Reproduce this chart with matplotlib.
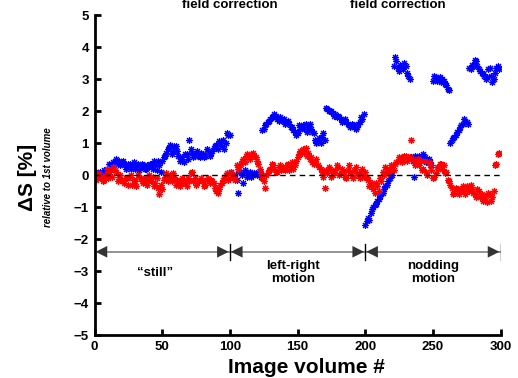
import numpy as np
import matplotlib
matplotlib.use("Agg")
import matplotlib.pyplot as plt

plt.rcParams['font.family'] = ['Liberation Sans', 'DejaVu Sans']

# image volume index
vol_even = np.arange(0, 300, 2)
vol_odd = np.arange(1, 300, 2)

# signal change, blue series (even / odd volumes)
blue_even = [0.0, 0.05, 0.1, 0.0, 0.1, 0.05, 0.3, 0.4, 0.5, 0.45,
             0.4, 0.3, 0.25, 0.35, 0.3, 0.2, 0.35, 0.25, 0.3, 0.2,
             0.25, 0.3, 0.45, 0.15, 0.3, 0.45, 0.6, 0.8, 0.95, 0.75,
             0.9, 0.6, 0.5, 0.4, 0.65, 1.1, 0.7, 0.6, 0.75, 0.55,
             0.65, 0.6, 0.75, 0.7, 0.85, 0.95, 1.05, 0.9, 0.8, 1.3,
             1.25, 0.0, -0.1, -0.55, 0.05, -0.25, 0.1, 0.0, -0.05, 0.05,
             0.0, 0.1, 1.4, 1.55, 1.65, 1.75, 1.8, 1.85, 1.7, 1.75,
             1.75, 1.65, 1.6, 1.5, 1.35, 1.3, 1.45, 1.55, 1.6, 1.5,
             1.45, 1.3, 1.0, 1.15, 1.2, 1.1, 2.05, 2.0, 1.95, 1.9,
             1.85, 1.75, 1.7, 1.65, 1.55, 1.6, 1.5, 1.5, 1.65, 1.75,
             -1.55, -1.35, -1.2, -1.0, -0.9, -0.75, -0.6, -0.45, -0.3, -0.1,
             0.0, 3.7, 3.35, 3.45, 3.3, 3.4, 3.1, 0.55, -0.05, 0.55,
             0.6, 0.5, 0.55, 0.45, 0.4, 2.95, 3.05, 3.0, 2.9, 2.95,
             2.8, 2.65, 1.1, 1.2, 1.35, 1.5, 1.6, 1.7, 1.6, 3.3,
             3.4, 3.55, 3.3, 3.2, 3.1, 3.05, 3.35, 2.9, 3.2, 3.4]
blue_odd = [0.1, -0.05, 0.05, 0.15, 0.0, 0.35, 0.25, 0.45, 0.35, 0.3,
            0.45, 0.2, 0.35, 0.2, 0.4, 0.3, 0.15, 0.35, 0.2, 0.3,
            0.35, 0.2, 0.3, 0.45, 0.1, 0.55, 0.7, 0.85, 0.65, 0.9,
            0.75, 0.45, 0.55, 0.65, 0.5, 0.8, 0.55, 0.7, 0.6, 0.7,
            0.55, 0.8, 0.6, 0.75, 0.9, 0.8, 1.0, 1.1, 1.0, 1.25,
            0.1, 0.0, -0.15, 0.1, 0.0, 0.15, -0.05, 0.1, 0.0, 0.05,
            0.05, -0.05, 1.45, 1.6, 1.7, 1.8, 1.9, 1.75, 1.8, 1.7,
            1.6, 1.7, 1.5, 1.4, 1.25, 1.55, 1.5, 1.45, 1.35, 1.6,
            1.35, 1.1, 1.05, 1.0, 1.3, 2.1, 2.0, 2.0, 1.85, 1.8,
            1.8, 1.65, 1.75, 1.6, 1.5, 1.55, 1.45, 1.6, 1.8, 1.9,
            -1.45, -1.4, -1.05, -0.95, -0.8, -0.65, -0.55, -0.35, -0.2, 0.05,
            3.4, 3.55, 3.25, 3.35, 3.5, 3.2, 3.0, 0.45, 0.6, 0.5,
            0.5, 0.65, 0.4, 0.5, 0.3, 3.1, 2.95, 3.05, 3.0, 2.85,
            2.7, 1.0, 1.15, 1.25, 1.4, 1.55, 1.75, 1.65, 3.35, 3.45,
            3.6, 3.4, 3.25, 3.15, 3.0, 3.3, 3.1, 3.0, 3.35, 3.3]

# signal change, red series (even / odd volumes)
red_even = [0.05, -0.05, -0.1, -0.2, 0.0, -0.1, 0.15, 0.25, 0.1, -0.05,
            -0.15, -0.25, -0.1, -0.05, -0.3, -0.2, 0.0, -0.1, -0.25, -0.15,
            0.0, -0.2, -0.35, -0.1, -0.6, -0.45, -0.05, -0.2, 0.0, 0.05,
            -0.3, -0.2, -0.25, -0.15, -0.35, -0.2, 0.1, -0.1, -0.25, -0.15,
            -0.2, -0.3, -0.1, -0.15, -0.25, -0.5, -0.45, -0.25, -0.1, 0.05,
            -0.1, 0.0, -0.15, 0.2, 0.35, 0.5, 0.6, 0.55, 0.65, 0.6,
            0.45, 0.2, -0.1, -0.4, 0.05, 0.2, 0.3, 0.1, 0.25, 0.15,
            0.2, 0.3, 0.15, 0.4, 0.3, 0.55, 0.75, 0.8, 0.85, 0.7,
            0.55, 0.35, 0.5, 0.25, 0.1, -0.4, 0.05, 0.2, 0.0, 0.15,
            0.25, 0.05, 0.1, -0.1, 0.3, 0.0, 0.15, 0.05, -0.1, 0.2,
            0.1, -0.15, -0.3, -0.45, -0.25, -0.5, -0.2, 0.0, 0.2, 0.15,
            0.25, 0.35, 0.45, 0.5, 0.55, 0.6, 0.5, 1.1, 0.45, 0.35,
            0.3, 0.15, 0.45, 0.0, 0.3, -0.1, 0.05, 0.2, 0.35, 0.3,
            0.1, -0.2, -0.4, -0.55, -0.45, -0.5, -0.35, -0.6, -0.4, -0.3,
            -0.55, -0.7, -0.5, -0.6, -0.75, -0.85, -0.6, -0.7, 0.3, 0.65]
red_odd = [-0.15, 0.05, -0.05, -0.15, 0.2, 0.1, -0.05, 0.15, -0.2, 0.0,
           -0.2, -0.1, -0.3, 0.0, -0.15, -0.35, -0.05, -0.2, -0.1, -0.3,
           -0.15, -0.05, -0.25, -0.4, -0.3, -0.15, 0.05, -0.1, -0.2, -0.05,
           -0.15, -0.35, -0.1, -0.25, -0.1, 0.05, -0.2, -0.3, -0.2, -0.1,
           -0.35, -0.15, -0.25, -0.2, -0.4, -0.55, -0.3, -0.15, 0.0, -0.15,
           0.1, -0.05, 0.3, 0.25, 0.45, 0.4, 0.65, 0.5, 0.7, 0.55,
           0.35, 0.05, -0.2, 0.0, 0.15, 0.35, 0.2, 0.1, 0.3, 0.25,
           0.15, 0.35, 0.25, 0.2, 0.45, 0.65, 0.7, 0.75, 0.6, 0.5,
           0.4, 0.45, 0.3, 0.2, -0.05, 0.15, 0.25, -0.05, 0.1, 0.3,
           0.0, 0.2, -0.05, 0.15, 0.1, -0.1, 0.25, 0.0, 0.1, -0.05,
           -0.05, -0.35, -0.25, -0.55, -0.35, -0.1, 0.1, 0.25, 0.05, 0.3,
           0.15, 0.4, 0.55, 0.4, 0.6, 0.45, 0.55, 0.5, 0.3, 0.5,
           0.45, 0.2, 0.1, 0.4, 0.15, -0.05, 0.25, 0.35, 0.2, 0.05,
           -0.15, -0.3, -0.6, -0.4, -0.6, -0.45, -0.5, -0.35, -0.5, -0.45,
           -0.6, -0.45, -0.7, -0.8, -0.65, -0.55, -0.8, -0.5, 0.35, 0.7]

# experiment segments
seg_edges = [0, 100, 200, 300]
seg_labels = ['\u201cstill\u201d', 'left-right\nmotion', 'nodding\nmotion']
seg_label_x = [45, 147, 250]
corr_labels_x = [230, 398]  # pixel positions of the "field correction" notes

fig = plt.figure(figsize=(5.18, 3.78), dpi=100)
ax = fig.add_axes([94.5 / 518, 43 / 378, 406 / 518, 320 / 378])

ast = (8, 2, 0)
for v, b in [(vol_even, blue_even), (vol_odd, blue_odd)]:
    ax.plot(v, b, ls='none', marker=ast, ms=5, mew=0.8, color='blue')
for v, r in [(vol_even, red_even), (vol_odd, red_odd)]:
    ax.plot(v, r, ls='none', marker=ast, ms=5, mew=0.8, color='red')

ax.plot([0, 300], [0, 0], color='black', lw=1, dashes=(4, 3))

# segment arrows
ya = -2.4
ax.plot([0, 300], [ya, ya], color='0.5', lw=1.2)
for i in range(len(seg_edges) - 1):
    a, b = seg_edges[i], seg_edges[i + 1]
    for tip, tail in [(a + 0.8, a + 7), (b - 0.8, b - 7)]:
        ax.annotate('', xy=(tip, ya), xytext=(tail, ya),
                    arrowprops=dict(arrowstyle='-|>,head_length=0.7,head_width=0.35',
                                    color='0.2', lw=0, shrinkA=0, shrinkB=0,
                                    mutation_scale=12))
    ax.text(seg_label_x[i], -3.05, seg_labels[i], ha='center', va='center',
            fontsize=9.5, fontweight='bold', linespacing=1.15)
for e in seg_edges[1:]:
    ax.plot([e, e], [ya - 0.25, ya + 0.25], color='black', lw=1)

ax.set_xlim(0, 300)
ax.set_ylim(-5, 5)
ax.set_xticks([0, 50, 100, 150, 200, 250, 300])
ax.set_yticks(range(-5, 6))
ax.set_yticklabels([str(v).replace('-', '\u2212') for v in range(-5, 6)])
for s in ['top', 'right']:
    ax.spines[s].set_visible(False)
for s in ['left', 'bottom']:
    ax.spines[s].set_linewidth(2)
ax.tick_params(direction='in', length=4, width=2, labelsize=9.5, pad=4)
for lab in ax.get_xticklabels() + ax.get_yticklabels():
    lab.set_fontweight('bold')

fig.text(27.5 / 518, 1 - 177 / 378, '\u0394S [%]', rotation=90, ha='center',
         va='center', fontsize=15, fontweight='bold')
fig.text(48 / 518, 1 - 177 / 378, 'relative to 1st volume', rotation=90,
         ha='center', va='center', fontsize=7, fontweight='bold', style='italic')
fig.text(306 / 518, 1 / 378, 'Image volume #', ha='center', va='bottom',
         fontsize=15, fontweight='bold')
for px in corr_labels_x:
    fig.text(px / 518, 1 - 5 / 378, 'field correction', ha='center', va='center',
             fontsize=9.5, fontweight='bold')

fig.savefig('out.png', dpi=100)
